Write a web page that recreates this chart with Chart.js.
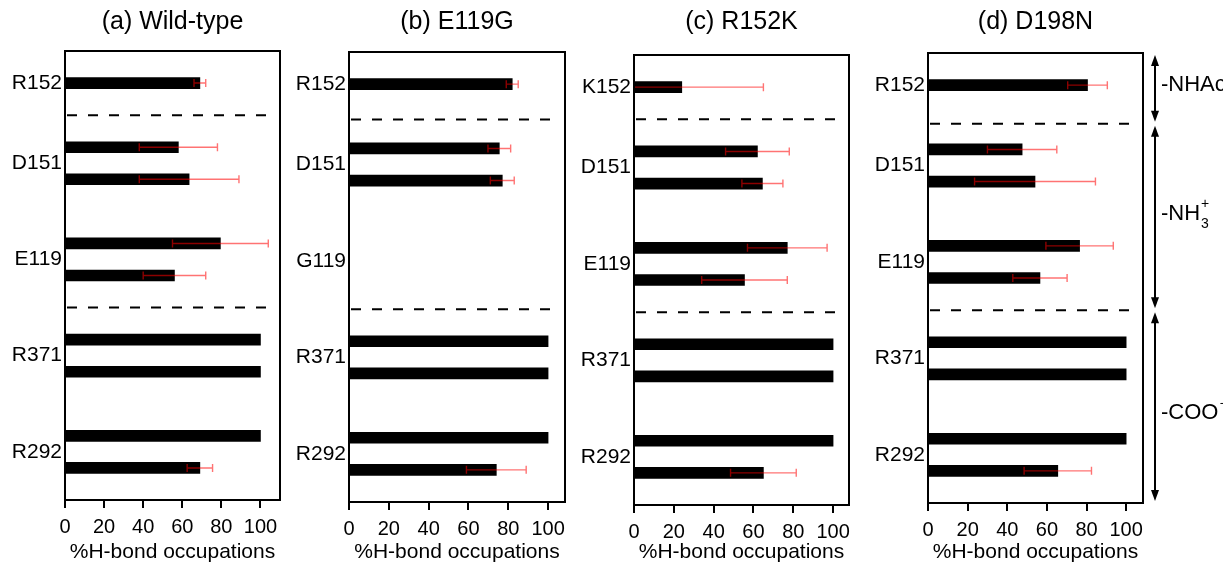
<!DOCTYPE html>
<html>
<head>
<meta charset="utf-8">
<script src="https://cdn.jsdelivr.net/npm/chart.js@4.4.0/dist/chart.umd.min.js"></script>
<style>
  html, body { margin: 0; padding: 0; background: #fff; }
  #wrap { position: relative; width: 1223px; height: 565px; overflow: hidden; }
  #wrap canvas { position: absolute; top: 0; }
</style>
</head>
<body>
<div id="wrap">
  <canvas id="chartA" width="290" height="565" style="left:0px"></canvas>
  <canvas id="chartB" width="285" height="565" style="left:290px"></canvas>
  <canvas id="chartC" width="285" height="565" style="left:575px"></canvas>
  <canvas id="chartD" width="363" height="565" style="left:860px"></canvas>
</div>
<script>
// Dados (ocupação de ligações H, %)
const panelTitles = ['(a) Wild-type', '(b) E119G', '(c) R152K', '(d) D198N'];
const xTickValues = [0, 20, 40, 60, 80, 100];
const xAxisTitle = '%H-bond occupations';

// posições no eixo y (0 = topo)
const barPositions = [1, 3, 4, 6, 7, 9, 10, 12, 13];
const labelPositions = [1, 3.5, 6.5, 9.5, 12.5];

const labelsWildType = ['R152', 'D151', 'E119', 'R371', 'R292'];
const labelsE119G = ['R152', 'D151', 'G119', 'R371', 'R292'];
const labelsR152K = ['K152', 'D151', 'E119', 'R371', 'R292'];
const labelsD198N = ['R152', 'D151', 'E119', 'R371', 'R292'];

const valuesWildType = [69, 58, 63.5, 79.5, 56, 100, 100, 100, 69];
const errorsWildType = [3, 20, 25.5, 24.5, 16, 0, 0, 0, 6.5];
const valuesE119G = [82, 75.5, 77, null, null, 100, 100, 100, 74];
const errorsE119G = [3, 5.7, 6, 0, 0, 0, 0, 0, 15];
const valuesR152K = [24, 62, 64.5, 77, 55.5, 100, 100, 100, 65];
const errorsR152K = [41, 16, 10.3, 20, 21.5, 0, 0, 0, 16.5];
const valuesD198N = [80.5, 47.5, 54, 76.5, 56.5, 100, 100, 100, 65.5];
const errorsD198N = [10, 17.5, 30.5, 17, 13.7, 0, 0, 0, 17];

// linhas tracejadas separando os grupos
const dividersWildType = [2, 8];
const dividersE119G = [2.1, 8];
const dividersR152K = [2, 8];
const dividersD198N = [2.2, 8];

// grupos à direita do painel (d)
const groupNames = ['-NHAc', '-NH', '-COO'];
const groupLabelPos = [1, 5, 11.2];

const FONT = 'Arial, "Liberation Sans", sans-serif';

// Plugin: moldura, barras de erro e linhas tracejadas
const panelDecor = {
    id: 'panelDecor',
    afterDatasetsDraw(chart, args, opts) {
        const ctx = chart.ctx;
        const area = chart.chartArea;
        const xs = chart.scales.x;
        const ys = chart.scales.y;

        ctx.save();
        ctx.beginPath();
        ctx.rect(area.left, area.top, area.right - area.left, area.bottom - area.top);
        ctx.clip();

        // barras de erro
        ctx.strokeStyle = 'rgba(255, 0, 0, 0.55)';
        ctx.lineWidth = 1.4;
        opts.values.forEach((v, i) => {
            const e = opts.errors[i];
            if (v == null || !e) return;
            const y = ys.getPixelForValue(barPositions[i]);
            const x1 = xs.getPixelForValue(v - e);
            const x2 = xs.getPixelForValue(v + e);
            ctx.beginPath();
            ctx.moveTo(x1, y); ctx.lineTo(x2, y);
            ctx.moveTo(x1, y - 4); ctx.lineTo(x1, y + 4);
            ctx.moveTo(x2, y - 4); ctx.lineTo(x2, y + 4);
            ctx.stroke();
        });

        // linhas tracejadas
        ctx.strokeStyle = '#000';
        ctx.lineWidth = 2;
        ctx.setLineDash([10, 11]);
        opts.dividers.forEach(d => {
            const y = ys.getPixelForValue(d);
            ctx.beginPath();
            ctx.moveTo(area.left + 2, y);
            ctx.lineTo(area.right - 6, y);
            ctx.stroke();
        });
        ctx.restore();

        // moldura
        ctx.save();
        ctx.strokeStyle = '#000';
        ctx.lineWidth = 2;
        ctx.strokeRect(area.left, area.top, area.right - area.left, area.bottom - area.top);
        ctx.restore();
    }
};

// Plugin: setas e nomes dos grupos (só no painel d)
const groupArrows = {
    id: 'groupArrows',
    afterDraw(chart, args, opts) {
        if (!opts.show) return;
        const ctx = chart.ctx;
        const ys = chart.scales.y;
        const xA = chart.chartArea.right + 12;
        const bounds = [ys.min, ...opts.dividers, ys.max];

        ctx.save();
        ctx.strokeStyle = '#000';
        ctx.fillStyle = '#000';
        ctx.lineWidth = 2;
        for (let k = 0; k < bounds.length - 1; k++) {
            const yTop = ys.getPixelForValue(bounds[k]) + 2;
            const yBot = ys.getPixelForValue(bounds[k + 1]) - 2;
            ctx.beginPath();
            ctx.moveTo(xA, yTop + 8);
            ctx.lineTo(xA, yBot - 8);
            ctx.stroke();
            ctx.beginPath();
            ctx.moveTo(xA, yTop); ctx.lineTo(xA - 4, yTop + 11); ctx.lineTo(xA + 4, yTop + 11);
            ctx.closePath(); ctx.fill();
            ctx.beginPath();
            ctx.moveTo(xA, yBot); ctx.lineTo(xA - 4, yBot - 11); ctx.lineTo(xA + 4, yBot - 11);
            ctx.closePath(); ctx.fill();
        }

        ctx.textBaseline = 'middle';
        ctx.textAlign = 'left';
        const tx = xA + 6;
        groupNames.forEach((name, k) => {
            const y = ys.getPixelForValue(groupLabelPos[k]);
            ctx.font = '22px ' + FONT;
            ctx.fillText(name, tx, y);
            const w = ctx.measureText(name).width;
            ctx.font = '14px ' + FONT;
            if (k === 1) {
                ctx.fillText('3', tx + w + 1, y + 10);
                ctx.fillText('+', tx + w + 1, y - 10);
            } else if (k === 2) {
                ctx.fillText('\u2212', tx + w + 1, y - 9);
            }
        });
        ctx.restore();
    }
};

function createPanel(elementId, title, labels, values, errors, dividers, geo, showGroups) {
    const ctx = document.getElementById(elementId).getContext('2d');
    const data = [];
    barPositions.forEach((p, i) => {
        if (values[i] != null) data.push({ x: values[i], y: p });
    });

    return new Chart(ctx, {
        type: 'bar',
        data: {
            datasets: [{
                data: data,
                backgroundColor: '#000',
                borderWidth: 0,
                barThickness: 11
            }]
        },
        options: {
            indexAxis: 'y',
            responsive: false,
            animation: false,
            devicePixelRatio: 1,
            layout: { padding: { left: 0, right: geo.padRight, top: 0, bottom: 0 } },
            scales: {
                x: {
                    type: 'linear',
                    min: 0,
                    max: geo.xMax,
                    afterBuildTicks: s => { s.ticks = xTickValues.map(v => ({ value: v })); },
                    afterFit: s => { s.height = 565 - geo.bottom; },
                    ticks: { color: '#000', font: { family: FONT, size: 20 }, padding: 7 },
                    grid: { drawOnChartArea: false, drawTicks: true, tickLength: 8, color: '#000', lineWidth: 2 },
                    border: { display: true, color: '#000', width: 2 },
                    title: {
                        display: true,
                        text: xAxisTitle,
                        color: '#000',
                        font: { family: FONT, size: 21 },
                        padding: { top: 0, bottom: 0 }
                    }
                },
                y: {
                    type: 'linear',
                    reverse: true,
                    offset: false,
                    min: 0,
                    max: 14,
                    afterBuildTicks: s => { s.ticks = labelPositions.map(v => ({ value: v })); },
                    afterFit: s => { s.width = geo.axisWidth; },
                    ticks: {
                        color: '#000',
                        font: { family: FONT, size: 21 },
                        padding: 3,
                        callback: (value, index) => labels[index]
                    },
                    grid: { display: false, drawTicks: false, offset: false },
                    border: { display: false }
                }
            },
            plugins: {
                legend: { display: false },
                tooltip: { enabled: false },
                title: {
                    display: true,
                    text: title,
                    fullSize: false,
                    color: '#000',
                    font: { family: FONT, size: 25, weight: 'normal' },
                    padding: { top: 7, bottom: geo.top - 7 - 30 }
                },
                panelDecor: { values: values, errors: errors, dividers: dividers },
                groupArrows: { show: showGroups, dividers: dividers }
            }
        },
        plugins: [panelDecor, groupArrows]
    });
}

createPanel('chartA', panelTitles[0], labelsWildType, valuesWildType, errorsWildType, dividersWildType,
    { axisWidth: 65, padRight: 10, top: 51, bottom: 500, xMax: 110 }, false);
createPanel('chartB', panelTitles[1], labelsE119G, valuesE119G, errorsE119G, dividersE119G,
    { axisWidth: 59, padRight: 10, top: 52, bottom: 502, xMax: 108.5 }, false);
createPanel('chartC', panelTitles[2], labelsR152K, valuesR152K, errorsR152K, dividersR152K,
    { axisWidth: 59, padRight: 11, top: 55, bottom: 505, xMax: 108 }, false);
createPanel('chartD', panelTitles[3], labelsD198N, valuesD198N, errorsD198N, dividersD198N,
    { axisWidth: 68, padRight: 80, top: 53, bottom: 503, xMax: 108.5 }, true);
</script>
</body>
</html>
